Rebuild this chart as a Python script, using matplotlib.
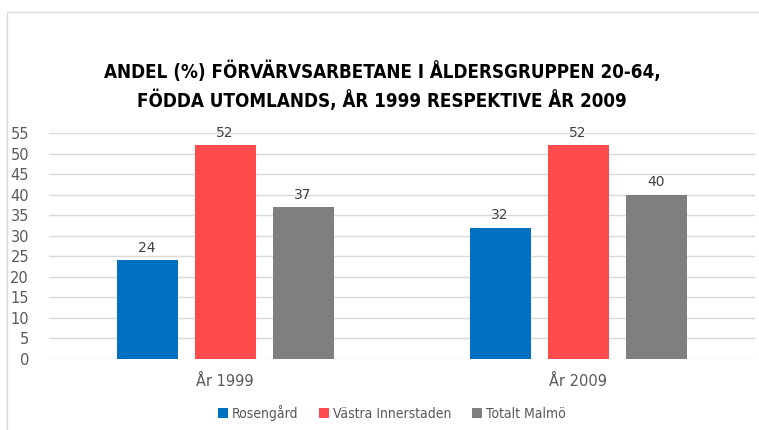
import matplotlib
matplotlib.use("Agg")
import matplotlib.pyplot as plt
import numpy as np
from matplotlib.patches import Rectangle

categories = ["År 1999", "År 2009"]
series = ["Rosengård", "Västra Innerstaden", "Totalt Malmö"]
rosengard = [24, 32]
vastra = [52, 52]
totalt = [37, 40]
colors = ["#0070C0", "#FF4B4B", "#7F7F7F"]
yticks = list(range(0, 56, 5))

W, H = 759, 430
fig = plt.figure(figsize=(W/100, H/100), dpi=100)
fig.patch.set_facecolor("white")

# outer frame
fig.patches.append(Rectangle((7/W, -0.05), 1.2, 1 - 12/H + 0.05, transform=fig.transFigure,
                             fill=False, edgecolor="#D9D9D9", linewidth=1.0))

ax = fig.add_axes([48.5/W, 1 - 359/H, (754.5-48.5)/W, (359-133)/H])
x = np.arange(len(categories))
bw = 61/353
pitch = 78/353
vals = [rosengard, vastra, totalt]
for i, (name, v, c) in enumerate(zip(series, vals, colors)):
    pos = x + (i - 1) * pitch
    bars = ax.bar(pos, v, width=bw, color=c, label=name, zorder=3)
    for b, val in zip(bars, v):
        ax.text(b.get_x() + b.get_width()/2, val + 1.3, f"{val}", ha="center", va="bottom",
                fontsize=10, color="#404040")

ax.set_xlim(-0.5, 1.5)
ax.set_ylim(0, 55)
ax.set_yticks(yticks)
ax.set_xticks(x)
ax.set_xticklabels(categories)
ax.yaxis.grid(True, color="#D9D9D9", linewidth=1, zorder=0)
ax.set_axisbelow(True)
for s in ax.spines.values():
    s.set_visible(False)
ax.tick_params(axis="both", length=0, colors="#595959", labelsize=10.5)
ax.tick_params(axis="y", pad=14)
ax.tick_params(axis="x", pad=11)

fig.text(382/W, 1 - 86/H, "ANDEL (%) FÖRVÄRVSARBETANE I ÅLDERSGRUPPEN 20-64,\nFÖDDA UTOMLANDS, ÅR 1999 RESPEKTIVE ÅR 2009",
         ha="center", va="center", fontsize=13.5, fontweight="bold", color="#000000",
         linespacing=1.45, family="DejaVu Sans", fontstretch="condensed")

leg = fig.legend(loc="center", bbox_to_anchor=(392/W, 1 - 413/H), ncol=3, frameon=False,
                 prop={"size": 10, "family": "DejaVu Sans", "stretch": "condensed"},
                 handlelength=0.7, handleheight=0.7, handletextpad=0.3,
                 columnspacing=1.5, labelcolor="#595959")

fig.savefig("out.png", dpi=100)
